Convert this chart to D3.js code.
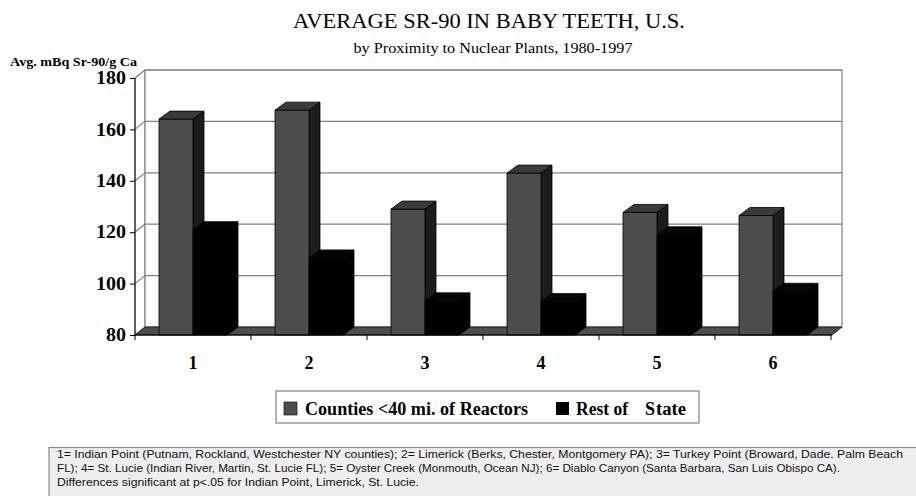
<!DOCTYPE html>
<html>
<head>
<meta charset="utf-8">
<script src="https://cdn.jsdelivr.net/npm/d3@7"></script>
<style>
  html, body { margin: 0; padding: 0; background: #fff; }
  svg { display: block; }
</style>
</head>
<body>
<svg id="chart" width="916" height="496"></svg>
<script>
// ---- data ----
const categories = ["1", "2", "3", "4", "5", "6"];
const seriesNames = ["Counties <40 mi. of Reactors", "Rest of State"];
const nearValues = [164, 167.5, 129, 143, 127.7, 126.5];
const restValues = [121, 110, 93.3, 93, 119, 97];
const yTicks = [80, 100, 120, 140, 160, 180];
const titleText = "AVERAGE SR-90 IN BABY TEETH, U.S.";
const subtitleText = "by Proximity to Nuclear Plants, 1980-1997";
const yAxisTitle = "Avg. mBq Sr-90/g Ca";
const noteLines = [
  "1= Indian Point (Putnam, Rockland, Westchester NY counties); 2= Limerick (Berks, Chester, Montgomery PA); 3= Turkey Point (Broward, Dade. Palm Beach",
  "FL); 4= St. Lucie (Indian River, Martin, St. Lucie FL); 5= Oyster Creek (Monmouth, Ocean NJ); 6= Diablo Canyon (Santa Barbara, San Luis Obispo CA).",
  "Differences significant at p<.05 for Indian Point, Limerick, St. Lucie."
];

(function () {
// ---- layout ----
const svg = d3.select("#chart");
const serif = "'Liberation Serif', 'Times New Roman', serif";
const sans = "'Liberation Sans', Arial, sans-serif";
const pL = 135, pR = 831, pT = 78, pB = 335;
const DX = 10, DY = -8;      // depth of walls
const BDX = 11, BDY = -8;    // depth of bars
const gridColor = "#808080";

const x = d3.scaleBand().domain(categories).range([pL, pR]).padding(0);
const xs = d3.scaleBand().domain(seriesNames).range([0, x.bandwidth()]).paddingInner(0).paddingOuter(0.706);
const y = d3.scaleLinear().domain([80, 180]).range([pB, pT]);

const backRight = pR + DX + 1;
const pts = a => a.map(p => p.join(",")).join(" ");

// side (left) wall
svg.append("polygon")
  .attr("points", pts([[pL, y(180)], [pL + DX, y(180) + DY], [pL + DX, y(80) + DY], [pL, y(80)]]))
  .attr("fill", "#fff").attr("stroke", gridColor).attr("stroke-width", 1);

// back wall
svg.append("rect")
  .attr("x", pL + DX).attr("y", y(180) + DY)
  .attr("width", backRight - (pL + DX)).attr("height", y(80) - y(180))
  .attr("fill", "#fff").attr("stroke", gridColor).attr("stroke-width", 1.2);

// gridlines
const grid = svg.append("g");
yTicks.filter(v => v > 80).forEach(v => {
  grid.append("polyline")
    .attr("points", pts([[pL, y(v)], [pL + DX, y(v) + DY], [backRight, y(v) + DY]]))
    .attr("fill", "none").attr("stroke", gridColor).attr("stroke-width", 1.2);
});

// floor
svg.append("polygon")
  .attr("points", pts([[pL, y(80)], [pL + DX, y(80) + DY], [backRight, y(80) + DY], [pR + 1, y(80)]]))
  .attr("fill", "#4d4d4d").attr("stroke", "#222").attr("stroke-width", 1);

// bars
const colors = {
  [seriesNames[0]]: { front: "#4d4d4d", top: "#3a3a3a", side: "#1c1c1c" },
  [seriesNames[1]]: { front: "#000000", top: "#050505", side: "#000000" }
};
const bars = svg.append("g");
categories.forEach((c, i) => {
  [[seriesNames[0], nearValues[i]], [seriesNames[1], restValues[i]]].forEach(([s, v]) => {
    const x0 = x(c) + xs(s), x1 = x0 + xs.bandwidth();
    const yt = y(v), yb = y(80);
    const col = colors[s];
    const g = bars.append("g").attr("stroke", "#000").attr("stroke-width", 0.8).attr("stroke-linejoin", "round");
    g.append("polygon")
      .attr("points", pts([[x1, yt], [x1 + BDX, yt + BDY], [x1 + BDX, yb + BDY], [x1, yb]]))
      .attr("fill", col.side);
    g.append("rect").attr("x", x0).attr("y", yt).attr("width", x1 - x0).attr("height", yb - yt)
      .attr("fill", col.front);
    g.append("polygon")
      .attr("points", pts([[x0, yt], [x0 + BDX, yt + BDY], [x1 + BDX, yt + BDY], [x1, yt]]))
      .attr("fill", col.top);
  });
});

// y axis
const yAxis = svg.append("g").attr("transform", `translate(${pL},0)`)
  .call(d3.axisLeft(y).tickValues(yTicks).tickSize(5).tickPadding(4).tickFormat(d3.format("d")));
yAxis.select(".domain").attr("stroke", "#000").attr("d", `M0,${pT}V${pB + 5}`);
yAxis.selectAll(".tick line").attr("stroke", "#000");
yAxis.selectAll("text").attr("font-family", serif).attr("font-size", 18).attr("font-weight", "bold").attr("fill", "#000")
  .attr("textLength", 30).attr("lengthAdjust", "spacingAndGlyphs");
yAxis.selectAll(".tick").filter(d => d < 100).select("text").attr("textLength", 20);

// x axis
const xAxis = svg.append("g").attr("transform", `translate(0,${pB})`)
  .call(d3.axisBottom(x).tickSize(0).tickPadding(21));
xAxis.select(".domain").attr("stroke", "#000").attr("d", `M${pL},0H${pR + 1}`);
xAxis.selectAll("text").attr("font-family", serif).attr("font-size", 18).attr("font-weight", "bold").attr("fill", "#000");
xAxis.selectAll(".sep").data(categories.map(c => x(c) + x.bandwidth())).enter()
  .append("line").attr("class", "sep")
  .attr("x1", d => d).attr("x2", d => d).attr("y1", 0).attr("y2", 5)
  .attr("stroke", "#000");

// titles
svg.append("text").attr("x", 489).attr("y", 28).attr("text-anchor", "middle")
  .attr("font-family", serif).attr("font-size", 20).attr("fill", "#000")
  .attr("textLength", 392).attr("lengthAdjust", "spacingAndGlyphs").text(titleText);
svg.append("text").attr("x", 493).attr("y", 53).attr("text-anchor", "middle")
  .attr("font-family", serif).attr("font-size", 14.5).attr("fill", "#000")
  .attr("textLength", 279).attr("lengthAdjust", "spacingAndGlyphs").text(subtitleText);
svg.append("text").attr("x", 10).attr("y", 65.5)
  .attr("font-family", serif).attr("font-size", 12).attr("font-weight", "bold").attr("fill", "#000")
  .attr("textLength", 127).attr("lengthAdjust", "spacingAndGlyphs").text(yAxisTitle);

// legend
const lg = svg.append("g");
lg.append("rect").attr("x", 276).attr("y", 391).attr("width", 423).attr("height", 32)
  .attr("fill", "#fff").attr("stroke", "#808080").attr("stroke-width", 1.2);
lg.append("rect").attr("x", 284).attr("y", 402).attr("width", 13).attr("height", 13)
  .attr("fill", colors[seriesNames[0]].front).attr("stroke", "#000").attr("stroke-width", 0.6);
lg.append("text").attr("x", 305).attr("y", 415)
  .attr("font-family", serif).attr("font-size", 18).attr("font-weight", "bold").attr("fill", "#000")
  .attr("textLength", 223).attr("lengthAdjust", "spacingAndGlyphs").text(seriesNames[0]);
lg.append("rect").attr("x", 556).attr("y", 402).attr("width", 13).attr("height", 13)
  .attr("fill", "#000");
const t2 = lg.append("text").attr("y", 415)
  .attr("font-family", serif).attr("font-size", 18).attr("font-weight", "bold").attr("fill", "#000");
t2.append("tspan").attr("x", 576).attr("textLength", 52).attr("lengthAdjust", "spacingAndGlyphs").text("Rest of");
t2.append("tspan").attr("x", 645).text("S");
t2.append("tspan").attr("x", 656).attr("textLength", 30).attr("lengthAdjust", "spacingAndGlyphs").text("tate");

// note box
const nb = svg.append("g");
nb.append("rect").attr("x", 49).attr("y", 447.5).attr("width", 900).attr("height", 60)
  .attr("fill", "#eeeeee").attr("stroke", "#8a8a8a").attr("stroke-width", 1.2);
const noteWidths = [846, 783, 362];
noteLines.forEach((l, i) => {
  nb.append("text").attr("x", 57).attr("y", 458 + i * 13.8)
    .attr("font-family", sans).attr("font-size", 11.5).attr("fill", "#111")
    .attr("textLength", noteWidths[i]).attr("lengthAdjust", "spacingAndGlyphs").text(l);
});
})();
</script>
</body>
</html>
